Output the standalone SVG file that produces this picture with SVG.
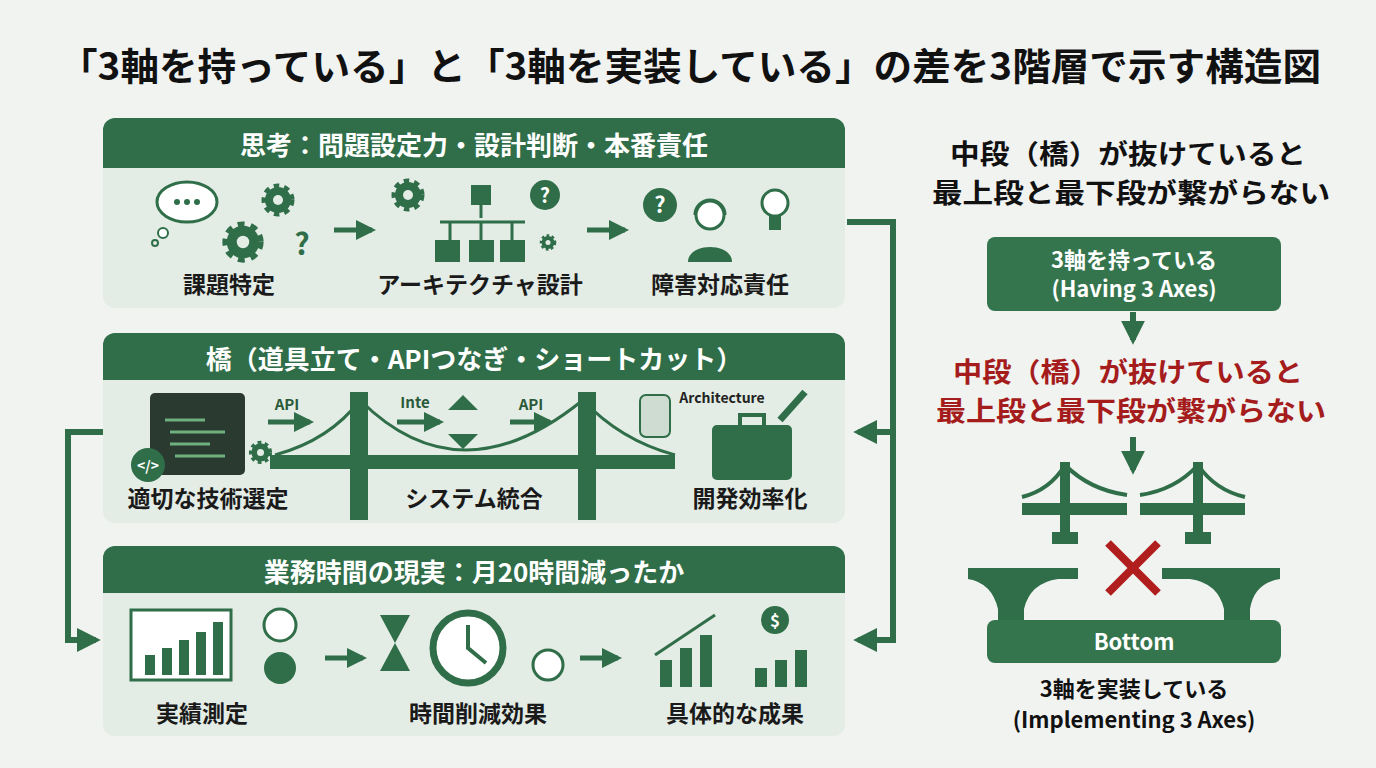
<svg xmlns="http://www.w3.org/2000/svg" width="1376" height="768" viewBox="0 0 1376 768">
<style>
text{font-family:"Noto Sans CJK JP","Noto Sans",sans-serif;font-weight:700}
.hd{fill:#fff;font-size:26px;text-anchor:middle}
.lb{fill:#1a1a1a;font-size:23px;text-anchor:middle}
.sm{fill:#2a5a3a;font-size:15px;text-anchor:middle}
.g{fill:#2f6e48}
.gs{stroke:#2f6e48;fill:none}
.pn{fill:#e3ece5}
.rt{font-size:27px;text-anchor:middle}
</style>
<defs>
<marker id="ah" viewBox="0 0 10 10" refX="8" refY="5" markerWidth="4" markerHeight="4" orient="auto"><path d="M0,0L10,5L0,10z" fill="#2f6e48"/></marker>
<g id="gear"><circle r="13" fill="#2f6e48"/><circle r="13" fill="none" stroke="#2f6e48" stroke-width="7" stroke-dasharray="5 4.5"/><circle r="5" fill="#e3ece5"/></g>
</defs>
<rect width="1376" height="768" fill="#f1f3f1"/>
<text x="690" y="80" text-anchor="middle" font-size="38" fill="#111" textLength="1262" lengthAdjust="spacingAndGlyphs">「3軸を持っている」と「3軸を実装している」の差を3階層で示す構造図</text>

<g id="panel1">
<rect x="103" y="118" width="742" height="190" rx="12" class="pn"/>
<path d="M115,118H833a12,12 0 0 1 12,12V168H103V130a12,12 0 0 1 12,-12z" class="g"/>
<text x="474" y="155" class="hd">思考：問題設定力・設計判断・本番責任</text>
<ellipse cx="187" cy="202" rx="30" ry="20" fill="#fff" stroke="#2f6e48" stroke-width="3"/>
<circle cx="177" cy="202" r="3" class="g"/><circle cx="187" cy="202" r="3" class="g"/><circle cx="197" cy="202" r="3" class="g"/>
<circle cx="163" cy="233" r="5" fill="#fff" stroke="#2f6e48" stroke-width="2"/><circle cx="155" cy="243" r="3" fill="none" stroke="#2f6e48" stroke-width="2"/>
<use href="#gear" x="278" y="200"/><use href="#gear" x="240" y="240" transform="translate(-57 -58) scale(1.25)"/>
<text x="302" y="255" font-size="30" fill="#2f6e48" text-anchor="middle">?</text>
<text x="229" y="293" class="lb">課題特定</text>
<line x1="334" y1="230" x2="372" y2="230" class="gs" stroke-width="5" marker-end="url(#ah)"/>
<use href="#gear" x="408" y="195"/>
<rect x="471" y="185" width="20" height="20" class="g"/>
<path d="M481,205V218M440,222h85M450,222v18M481,222v18M512,222v18" class="gs" stroke-width="3"/>
<rect x="435" y="240" width="25" height="22" class="g"/><rect x="469" y="240" width="25" height="22" class="g"/><rect x="500" y="240" width="25" height="22" class="g"/>
<circle cx="545" cy="195" r="15" class="g"/><text x="545" y="203" font-size="20" fill="#fff" text-anchor="middle">?</text>
<use href="#gear" x="548" y="243" transform="translate(274 121) scale(0.5)"/>
<text x="480" y="293" class="lb">アーキテクチャ設計</text>
<line x1="587" y1="230" x2="625" y2="230" class="gs" stroke-width="5" marker-end="url(#ah)"/>
<circle cx="660" cy="205" r="17" class="g"/><text x="660" y="213" font-size="22" fill="#fff" text-anchor="middle">?</text>
<circle cx="710" cy="215" r="14" fill="#fff" stroke="#2f6e48" stroke-width="3"/>
<path d="M688,262c0,-20 44,-20 44,0z" class="g"/>
<path d="M695,215a15,15 0 0 1 30,0" class="gs" stroke-width="3"/>
<circle cx="775" cy="203" r="13" fill="#fff" stroke="#2f6e48" stroke-width="3"/><rect x="769" y="216" width="12" height="14" class="g"/>
<text x="720" y="293" class="lb">障害対応責任</text>
</g>

<g id="panel2">
<rect x="103" y="333" width="742" height="190" rx="12" class="pn"/>
<path d="M115,333H833a12,12 0 0 1 12,12V380H103V345a12,12 0 0 1 12,-12z" class="g"/>
<text x="474" y="369" class="hd">橋（道具立て・APIつなぎ・ショートカット）</text>
<rect x="150" y="393" width="95" height="82" rx="5" fill="#2b3a30"/>
<path d="M165,420h40M170,432h55M170,444h40M175,456h50" stroke="#6fb07f" stroke-width="3"/>
<circle cx="148" cy="465" r="17" class="g"/><text x="148" y="471" font-size="14" fill="#fff" text-anchor="middle">&lt;/&gt;</text>
<use href="#gear" x="255" y="442" transform="translate(82 143) scale(0.7)"/>
<text x="208" y="507" class="lb">適切な技術選定</text>
<text x="287" y="410" class="sm">API</text>
<line x1="268" y1="422" x2="310" y2="422" class="gs" stroke-width="5" marker-end="url(#ah)"/>
<text x="415" y="408" class="sm">Inte</text>
<line x1="397" y1="422" x2="440" y2="422" class="gs" stroke-width="5" marker-end="url(#ah)"/>
<path d="M448,410l15,-15l15,15zM448,434l15,15l15,-15z" class="g"/>
<text x="531" y="410" class="sm">API</text>
<line x1="510" y1="422" x2="550" y2="422" class="gs" stroke-width="5" marker-end="url(#ah)"/>
<path d="M275,455Q330,440 360,400Q460,500 583,400Q620,440 675,455" class="gs" stroke-width="3"/>
<rect x="270" y="455" width="405" height="14" class="g"/>
<rect x="350" y="392" width="18" height="128" class="g"/><rect x="578" y="392" width="18" height="128" class="g"/>
<text x="474" y="507" class="lb">システム統合</text>
<rect x="640" y="395" width="30" height="42" rx="6" fill="#cfdcd2" stroke="#2f6e48" stroke-width="2"/>
<text x="722" y="403" font-size="14" fill="#222" text-anchor="middle">Architecture</text>
<rect x="712" y="425" width="80" height="55" rx="5" class="g"/>
<path d="M740,425v-10h24v10" class="gs" stroke-width="4"/>
<path d="M780,420l25,-28" stroke="#2f6e48" stroke-width="7"/>
<text x="750" y="507" class="lb">開発効率化</text>
</g>

<g id="panel3">
<rect x="103" y="546" width="742" height="190" rx="12" class="pn"/>
<path d="M115,546H833a12,12 0 0 1 12,12V593H103V558a12,12 0 0 1 12,-12z" class="g"/>
<text x="474" y="582" class="hd">業務時間の現実：月20時間減ったか</text>
<rect x="131" y="610" width="100" height="70" fill="#fff" stroke="#2f6e48" stroke-width="3"/>
<rect x="145" y="655" width="10" height="20" class="g"/><rect x="162" y="648" width="10" height="27" class="g"/><rect x="179" y="640" width="10" height="35" class="g"/><rect x="196" y="632" width="10" height="43" class="g"/><rect x="213" y="622" width="10" height="53" class="g"/>
<circle cx="280" cy="625" r="16" fill="#fff" stroke="#2f6e48" stroke-width="3"/><circle cx="280" cy="668" r="16" class="g"/>
<text x="202" y="722" class="lb">実績測定</text>
<line x1="325" y1="658" x2="363" y2="658" class="gs" stroke-width="5" marker-end="url(#ah)"/>
<path d="M380,615h30l-15,28l15,28h-30l15,-28z" class="g"/>
<circle cx="468" cy="648" r="35" fill="#fff" stroke="#2f6e48" stroke-width="7"/>
<path d="M468,625v23l18,15" class="gs" stroke-width="4"/>
<circle cx="548" cy="665" r="15" fill="#fff" stroke="#2f6e48" stroke-width="3"/>
<text x="478" y="722" class="lb">時間削減効果</text>
<line x1="580" y1="658" x2="618" y2="658" class="gs" stroke-width="5" marker-end="url(#ah)"/>
<rect x="660" y="660" width="12" height="27" class="g"/><rect x="680" y="648" width="12" height="39" class="g"/><rect x="700" y="635" width="12" height="52" class="g"/>
<path d="M655,655l60,-40" class="gs" stroke-width="3"/>
<circle cx="775" cy="620" r="14" class="g"/><text x="775" y="627" font-size="17" fill="#fff" text-anchor="middle">$</text>
<rect x="755" y="668" width="12" height="19" class="g"/><rect x="775" y="660" width="12" height="27" class="g"/><rect x="795" y="650" width="12" height="37" class="g"/>
<text x="735" y="722" class="lb">具体的な成果</text>
</g>

<g id="connectors" fill="none" stroke="#2f6e48" stroke-width="6">
<path d="M847,222H893V640H858" marker-end="url(#ah)"/>
<path d="M893,432H858" marker-end="url(#ah)"/>
<path d="M103,432H68V640H96" marker-end="url(#ah)"/>
<path d="M1133,312V340" marker-end="url(#ah)"/>
<path d="M1133,437V470" marker-end="url(#ah)"/>
</g>

<g id="right">
<text x="1128" y="164" class="rt" fill="#111" textLength="356" lengthAdjust="spacingAndGlyphs">中段（橋）が抜けていると</text>
<text x="1131" y="203" class="rt" fill="#111" textLength="398" lengthAdjust="spacingAndGlyphs">最上段と最下段が繋がらない</text>
<rect x="987" y="237" width="294" height="74" rx="8" fill="#35754d"/>
<text x="1134" y="268" text-anchor="middle" font-size="22" fill="#fff">3軸を持っている</text>
<text x="1134" y="297" text-anchor="middle" font-size="22" fill="#fff">(Having 3 Axes)</text>
<text x="1128" y="382" class="rt" fill="#a51c1c" textLength="350" lengthAdjust="spacingAndGlyphs">中段（橋）が抜けていると</text>
<text x="1131" y="421" class="rt" fill="#a51c1c" textLength="390" lengthAdjust="spacingAndGlyphs">最上段と最下段が繋がらない</text>
<g fill="#2f6e48">
<rect x="1022" y="503" width="105" height="12"/><rect x="1140" y="503" width="105" height="12"/>
<rect x="1060" y="462" width="10" height="80"/><rect x="1193" y="462" width="10" height="80"/>
<rect x="1052" y="532" width="26" height="12"/><rect x="1185" y="532" width="26" height="12"/>
<path d="M968,568h110v11h-20q-28,4 -34,30v11h-26v-11q-6,-26 -30,-30z"/>
<path d="M1162,568h118v11q-26,4 -30,30v11h-26v-11q-6,-26 -34,-30h-28z"/>
</g>
<path d="M1022,497Q1050,490 1065,465Q1090,490 1127,495M1140,495Q1175,490 1198,465Q1215,490 1245,497" fill="none" stroke="#2f6e48" stroke-width="4"/>
<path d="M1108,543L1158,593M1158,543L1108,593" stroke="#b01e1e" stroke-width="8"/>
<rect x="987" y="620" width="294" height="43" rx="8" fill="#35754d"/>
<text x="1134" y="650" text-anchor="middle" font-size="22" fill="#fff">Bottom</text>
<text x="1134" y="697" text-anchor="middle" font-size="22" fill="#111">3軸を実装している</text>
<text x="1134" y="728" text-anchor="middle" font-size="22" fill="#111">(Implementing 3 Axes)</text>
</g>
</svg>
